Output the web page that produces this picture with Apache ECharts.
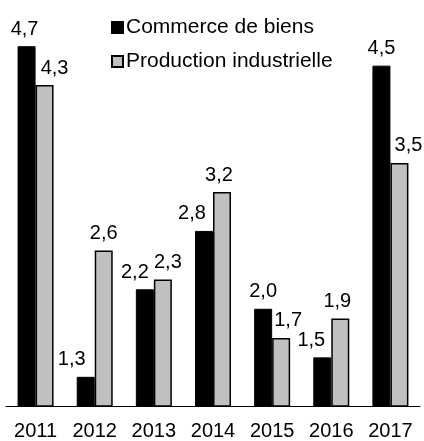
<!DOCTYPE html>
<html>
<head>
<meta charset="utf-8">
<script src="https://cdn.jsdelivr.net/npm/echarts@6/dist/echarts.min.js"></script>
<style>
  html, body { margin: 0; padding: 0; background: #fff; }
  #chart { width: 424px; height: 441px; }
</style>
</head>
<body>
<div id="chart"></div>
<script>
// Annual growth, goods trade vs industrial production
const years = ['2011', '2012', '2013', '2014', '2015', '2016', '2017'];
const commerce = [4.7, 1.3, 2.2, 2.8, 2.0, 1.5, 4.5];
const production = [4.3, 2.6, 2.3, 3.2, 1.7, 1.9, 3.5];
const seriesNames = ['Commerce de biens', 'Production industrielle'];

// Horizontal nudges for value labels so neighbouring labels don't collide
const commerceNudge = [-2, -14, -10, -12, 0, -11, 0];
const productionNudge = [10, 0, 5, -3, 7, -3, 9];

const FONT = 'Liberation Sans, Arial, sans-serif';

function withLabels(values, nudges) {
  return values.map((v, i) => ({
    value: v,
    label: { offset: [nudges[i], 0] }
  }));
}

const fmt = p => p.value.toFixed(1).replace('.', ',');

const chart = echarts.init(document.getElementById('chart'), null, { renderer: 'canvas' });
chart.setOption({
  animation: false,
  backgroundColor: '#ffffff',
  legend: {
    orient: 'vertical',
    left: 106,
    top: 12,
    itemWidth: 11,
    itemHeight: 11,
    itemGap: 13,
    icon: 'rect',
    textStyle: { fontFamily: FONT, fontSize: 21, color: '#000', padding: [0, 0, 0, -2] },
    data: seriesNames
  },
  grid: { left: 6, right: 4, top: 17, bottom: 32, containLabel: false },
  xAxis: {
    type: 'category',
    data: years,
    axisLine: { lineStyle: { color: '#000', width: 1 } },
    axisTick: { show: false },
    axisLabel: { fontFamily: FONT, fontSize: 20, color: '#000', margin: 15 }
  },
  yAxis: {
    type: 'value',
    min: 1,
    max: 5,
    show: false,
    splitLine: { show: false }
  },
  series: [
    {
      name: seriesNames[0],
      type: 'bar',
      barWidth: 18,
      barGap: '0%',
      itemStyle: { color: '#000000', borderColor: '#000000', borderWidth: 1 },
      label: {
        show: true, position: 'top', distance: 7,
        fontFamily: FONT, fontSize: 20, color: '#000', formatter: fmt
      },
      data: withLabels(commerce, commerceNudge)
    },
    {
      name: seriesNames[1],
      type: 'bar',
      barWidth: 18,
      itemStyle: { color: '#c0c0c0', borderColor: '#000000', borderWidth: 1.5 },
      label: {
        show: true, position: 'top', distance: 7,
        fontFamily: FONT, fontSize: 20, color: '#000', formatter: fmt
      },
      data: withLabels(production, productionNudge)
    }
  ]
});
</script>
</body>
</html>
